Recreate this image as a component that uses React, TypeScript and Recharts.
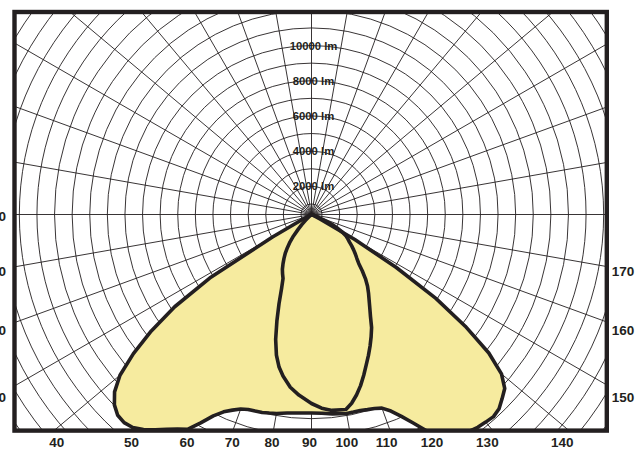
import React from "react";
import { RadarChart, Radar, PolarGrid, PolarAngleAxis, PolarRadiusAxis } from "recharts";

// Angle convention: 0 = left horizontal, 90 = straight down, 180 = right horizontal
const angleDeg = [
  0, 20, 26, 28, 30, 32, 34, 36, 38, 40, 42, 44, 46, 48, 50, 52, 54, 56, 58, 60,
  62, 64, 66, 68, 70, 72, 74, 76, 78, 80, 83, 86, 90, 93, 96, 100, 102, 104, 106, 108,
  110, 112, 114, 116, 118, 120, 122, 124, 126, 128, 130, 132, 134, 136, 138, 140, 142, 144, 146, 148,
  150, 152, 154, 156, 160, 165, 170, 180, 270, 360,
];

// Luminous intensity of the wide (filled) distribution, lm
const wingLm = [
  400, 400, 400, 855, 2957, 7218, 9775, 11650, 13241, 14605, 15457, 15969, 16253, 16310, 16196, 15912, 15514, 15116, 14775, 14491,
  13810, 13128, 12673, 12389, 12162, 12048, 12020, 11991, 11934, 11877, 11764, 11707, 11679, 11707, 11792, 11877, 11877, 11877, 11934, 11991,
  12105, 12446, 12957, 13582, 14321, 14889, 15230, 15457, 15627, 15741, 15798, 15855, 15741, 15457, 15173, 14491, 13185, 11196, 8923, 6082,
  3241, 968, 400, 400, 400, 400, 400, 400, 400, 400,
];

// Luminous intensity of the narrow distribution, lm
const lobeLm = [
  400, 400, 400, 400, 400, 400, 400, 400, 400, 400, 627, 855, 1195, 1536, 1991, 2389, 2730, 3070, 3355, 3639,
  3923, 4150, 4377, 4946, 5798, 6764, 7787, 8639, 9264, 9718, 10287, 10684, 11139, 11423, 11593, 11650, 11366, 10969, 10514, 10003,
  9491, 9036, 8582, 8128, 7673, 7105, 6650, 6253, 5911, 5571, 5173, 4718, 4264, 3980, 3752, 3525, 3298, 3070, 2900, 2730,
  2446, 2105, 1707, 1309, 741, 400, 400, 400, 400, 400,
];

const ringValues = [
  1000, 2000, 3000, 4000, 5000, 6000, 7000, 8000, 9000, 10000, 11000,
  12000, 13000, 14000, 15000, 16000, 17000, 18000, 19000, 20000, 21000,
];
const ringLabelValues = [2000, 4000, 6000, 8000, 10000];
const gridAngles = [
  0, 10, 20, 30, 40, 50, 60, 70, 80, 90, 100, 110, 120, 130, 140, 150, 160, 170,
  180, 190, 200, 210, 220, 230, 240, 250, 260, 270, 280, 290, 300, 310, 320, 330, 340, 350,
];
const bottomLabels = [40, 50, 60, 70, 80, 90, 100, 110, 120, 130, 140];
const leftLabels = [0, 10, 20, 30];
const rightLabels = [150, 160, 170];

const data = angleDeg.map((a, i) => ({ angle: a, wing: wingLm[i], lobe: lobeLm[i] }));

// layout
const FRAME = { left: 14.5, top: 12, right: 606.8, bottom: 430.6 };
const CENTER = { x: 311.5, y: 214.5 };
const CHART_LEFT = 14;
const CHART_TOP = 12;
const CHART_W = 593;
const CHART_H = 419;
const R_MIN = 400;
const R_MAX = 21400;
const OUTER_R = 369.6;
const BOTTOM_LABEL = { cx: 309.5, dy: 212, y: 442.5 };
const SIDE_LABEL_DX = 313;

const INK = "#231f20";
const FONT = "'Liberation Sans', Arial, Helvetica, sans-serif";

const RingTick = (props: any) => {
  const { x, y, payload } = props;
  if (!ringLabelValues.includes(payload.value)) return null;
  return (
    <text
      x={x + 2}
      y={y}
      textAnchor="middle"
      dominantBaseline="central"
      fontFamily={FONT}
      fontWeight="bold"
      fontSize={11.3}
      fill={INK}
    >
      {`${payload.value} lm`}
    </text>
  );
};

const rad = (d: number) => (d * Math.PI) / 180;

export default function App() {
  const labelStyle = {
    fontFamily: FONT,
    fontWeight: "bold" as const,
    fontSize: 13.5,
    fill: INK,
  };
  return (
    <div style={{ position: "absolute", left: 0, top: 0, width: 637, height: 450, background: "#fff" }}>
      <div style={{ position: "absolute", left: CHART_LEFT, top: CHART_TOP }}>
        <RadarChart
          width={CHART_W}
          height={CHART_H}
          cx={CENTER.x - CHART_LEFT}
          cy={CENTER.y - CHART_TOP}
          innerRadius={0}
          outerRadius={OUTER_R}
          startAngle={180}
          endAngle={540}
          data={data}
          margin={{ top: 0, right: 0, bottom: 0, left: 0 }}
        >
          <PolarGrid gridType="circle" stroke={INK} strokeWidth={1} strokeOpacity={0.9} />
          <PolarAngleAxis
            dataKey="angle"
            type="number"
            domain={[0, 360]}
            ticks={gridAngles}
            tick={false}
            axisLine={false}
            tickLine={false}
          />
          <PolarRadiusAxis
            angle={90}
            type="number"
            domain={[R_MIN, R_MAX]}
            ticks={ringValues}
            tick={<RingTick />}
            axisLine={false}
            tickLine={false}
            allowDataOverflow
          />
          <Radar
            dataKey="wing"
            stroke={INK}
            strokeWidth={3.6}
            strokeLinejoin="round"
            fill="#f6eb9f"
            fillOpacity={1}
            dot={false}
            isAnimationActive={false}
          />
          <Radar
            dataKey="lobe"
            stroke={INK}
            strokeWidth={3.6}
            strokeLinejoin="round"
            fill="none"
            fillOpacity={0}
            dot={false}
            isAnimationActive={false}
          />
        </RadarChart>
      </div>
      <svg
        width={637}
        height={450}
        style={{ position: "absolute", left: 0, top: 0, pointerEvents: "none" }}
      >
        <rect
          x={FRAME.left}
          y={FRAME.top}
          width={FRAME.right - FRAME.left}
          height={FRAME.bottom - FRAME.top}
          fill="none"
          stroke={INK}
          strokeWidth={4.4}
        />
        {bottomLabels.map((a) => (
          <text
            key={`b${a}`}
            x={BOTTOM_LABEL.cx - BOTTOM_LABEL.dy * Math.tan(rad(90 - a))}
            y={BOTTOM_LABEL.y}
            textAnchor="middle"
            dominantBaseline="central"
            {...labelStyle}
          >
            {a}
          </text>
        ))}
        {rightLabels.map((a) => (
          <text
            key={`r${a}`}
            x={623}
            y={CENTER.y + SIDE_LABEL_DX * Math.tan(rad(180 - a)) + 2}
            textAnchor="middle"
            dominantBaseline="central"
            {...labelStyle}
          >
            {a}
          </text>
        ))}
        {leftLabels.map((a) => (
          <text
            key={`l${a}`}
            x={6}
            y={CENTER.y + SIDE_LABEL_DX * Math.tan(rad(a)) + 2}
            textAnchor="end"
            dominantBaseline="central"
            {...labelStyle}
          >
            {a}
          </text>
        ))}
      </svg>
    </div>
  );
}
